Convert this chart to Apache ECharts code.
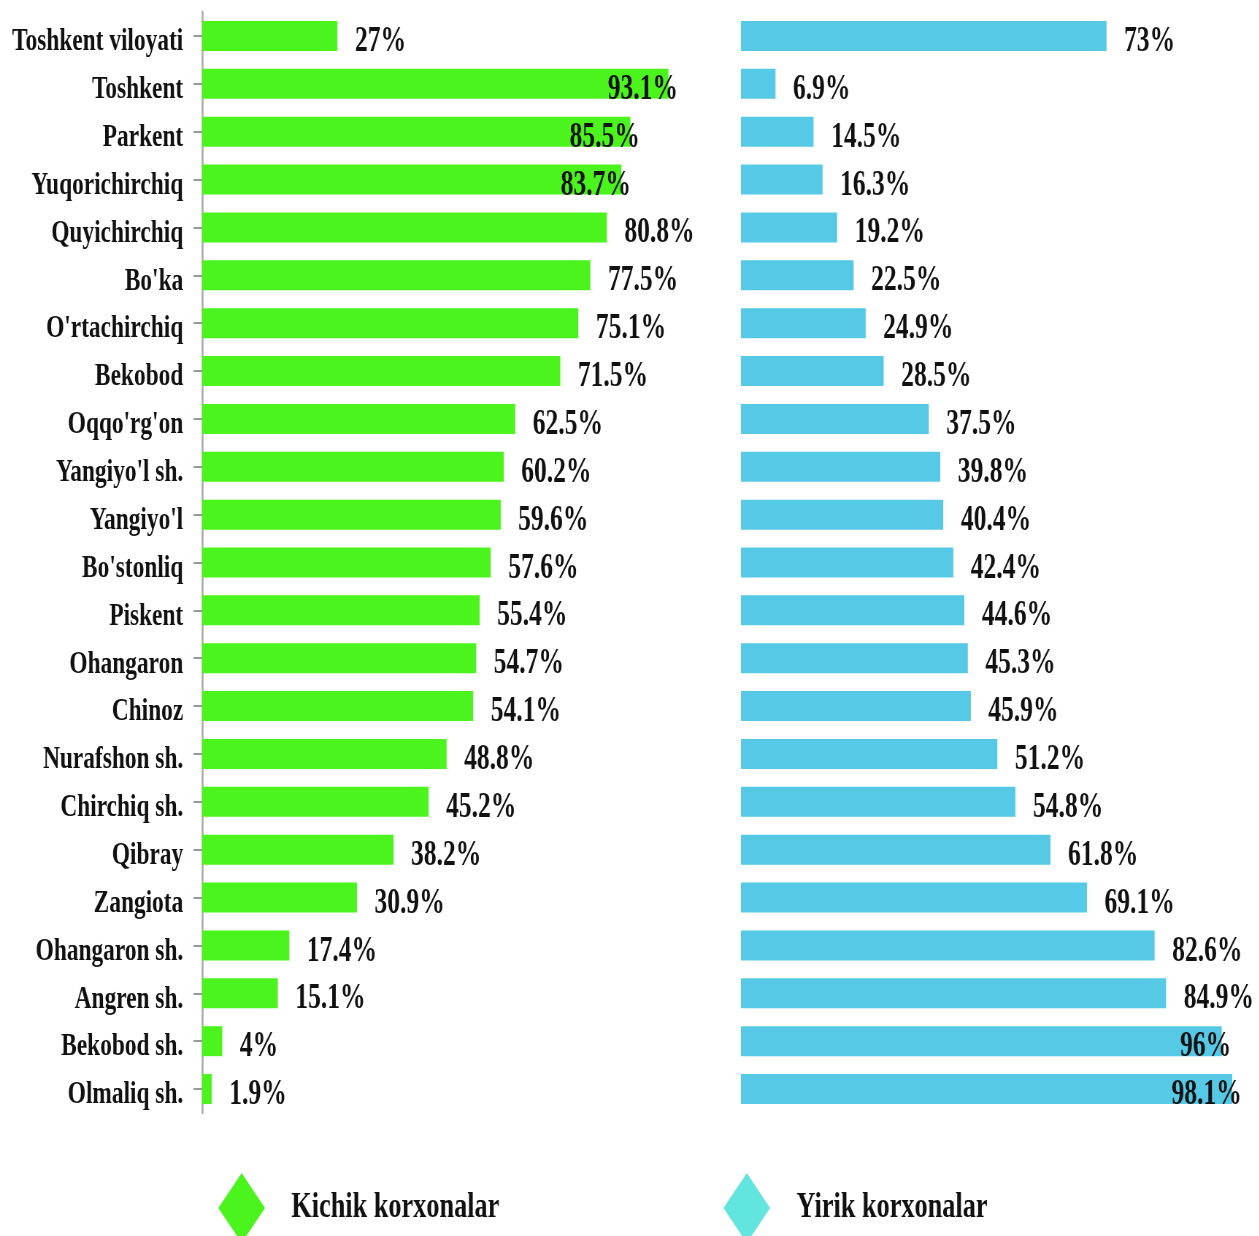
<!DOCTYPE html>
<html>
<head>
<meta charset="utf-8">
<script src="https://cdn.jsdelivr.net/npm/echarts@6/dist/echarts.min.js"></script>
<style>
  html, body { margin: 0; padding: 0; overflow: hidden; background: #fff; }
  .charts { width: 1259px; height: 1236px; overflow: hidden; }
  /* the source picture is squeezed sideways, so draw wide and squeeze */
  #myChart { width: 1725px; height: 1236px; transform: scaleX(0.73); transform-origin: 0 0; }
</style>
</head>
<body>
<div class="charts">
  <div id="myChart"></div>
</div>
<script>
var regions = ["Toshkent viloyati", "Toshkent", "Parkent", "Yuqorichirchiq", "Quyichirchiq", "Bo'ka",
  "O'rtachirchiq", "Bekobod", "Oqqo'rg'on", "Yangiyo'l sh.", "Yangiyo'l", "Bo'stonliq", "Piskent",
  "Ohangaron", "Chinoz", "Nurafshon sh.", "Chirchiq sh.", "Qibray", "Zangiota", "Ohangaron sh.",
  "Angren sh.", "Bekobod sh.", "Olmaliq sh."];
var kichik = [27, 93.1, 85.5, 83.7, 80.8, 77.5, 75.1, 71.5, 62.5, 60.2, 59.6, 57.6, 55.4, 54.7, 54.1,
  48.8, 45.2, 38.2, 30.9, 17.4, 15.1, 4, 1.9];
var yirik = [73, 6.9, 14.5, 16.3, 19.2, 22.5, 24.9, 28.5, 37.5, 39.8, 40.4, 42.4, 44.6, 45.3, 45.9,
  51.2, 54.8, 61.8, 69.1, 82.6, 84.9, 96, 98.1];
var seriesNames = ["Kichik korxonalar", "Yirik korxonalar"];

var font = "'Liberation Serif', 'Times New Roman', serif";
var green = "#4bf41c";
var blue = "#55c9e6";

// long bars carry their label at the end of the bar, poking out a little
function toData(values, limit) {
  return values.map(function (v) {
    if (v > limit) {
      return { value: v, label: { position: "insideRight", offset: [37, 6] } };
    }
    return v;
  });
}

var labelStyle = {
  show: true,
  position: "right",
  distance: 24,
  offset: [0, 6],
  formatter: "{c}%",
  fontFamily: font,
  fontWeight: "bold",
  fontSize: 35,
  color: "#111"
};

var chart = echarts.init(document.getElementById("myChart"));
chart.setOption({
  animation: false,
  legend: [
    {
      left: 294, top: 1168, itemWidth: 64, itemHeight: 70,
      icon: "diamond",
      data: [{ name: seriesNames[0], itemStyle: { color: green } }],
      textStyle: { fontFamily: font, fontWeight: "bold", fontSize: 36, color: "#111", padding: [4, 0, 0, 31] }
    },
    {
      left: 986, top: 1168, itemWidth: 64, itemHeight: 70,
      icon: "diamond",
      data: [{ name: seriesNames[1], itemStyle: { color: "#62e5de" } }],
      textStyle: { fontFamily: font, fontWeight: "bold", fontSize: 36, color: "#111", padding: [4, 0, 0, 31] }
    }
  ],
  grid: [
    { left: 277, width: 686, top: 12, bottom: 123 },
    { left: 1015, width: 686, top: 12, bottom: 123 }
  ],
  xAxis: [
    { type: "value", gridIndex: 0, min: 0, max: 100, show: false },
    { type: "value", gridIndex: 1, min: 0, max: 100, show: false }
  ],
  yAxis: [
    {
      type: "category", gridIndex: 0, inverse: true, data: regions,
      axisLine: { show: true, lineStyle: { color: "#aaa", width: 2.6 } },
      axisTick: { show: true, alignWithLabel: true, length: 12, lineStyle: { color: "#999", width: 2 } },
      axisLabel: {
        margin: 26,
        formatter: "{n|{value}}",
        rich: { n: { padding: [12, 0, 0, 0], fontFamily: font, fontWeight: "bold", fontSize: 32, color: "#111" } }
      }
    },
    { type: "category", gridIndex: 1, inverse: true, data: regions, show: false }
  ],
  series: [
    {
      name: seriesNames[0], type: "bar", xAxisIndex: 0, yAxisIndex: 0,
      barWidth: 30, itemStyle: { color: green },
      label: labelStyle,
      data: toData(kichik, 83)
    },
    {
      name: seriesNames[1], type: "bar", xAxisIndex: 1, yAxisIndex: 1,
      barWidth: 30, itemStyle: { color: blue },
      label: labelStyle,
      data: toData(yirik, 90)
    }
  ]
});
</script>
</body>
</html>
